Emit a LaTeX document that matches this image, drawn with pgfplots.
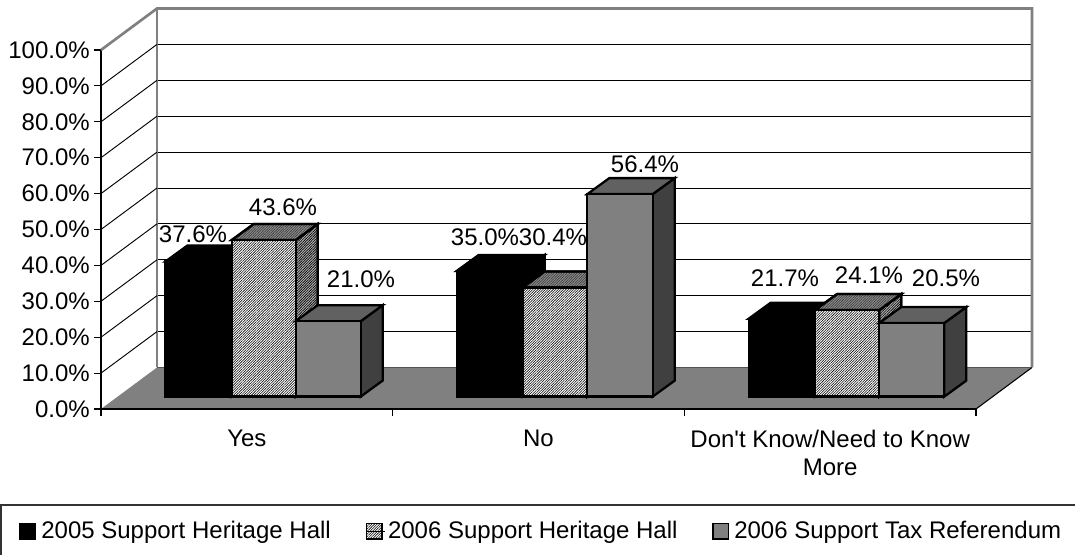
\documentclass[border=0pt]{standalone}
\usepackage{fontspec}
\setmainfont{Liberation Sans}[Ligatures=TeXOff]
\usepackage{pgfplots}
\pgfplotsset{compat=1.18}
\usetikzlibrary{patterns.meta}

% one drawing unit of the picture
\newlength{\U}\setlength{\U}{0.75pt}

% depth of a bar: horizontal in x units, vertical in percent
\def\depthx{22}
\def\depthy{4.457}

\tikzset{
  hatchfront/.style={preaction={fill=white},pattern={Lines[angle=45,distance=1.35pt,line width=0.42pt]},pattern color=black},
  hatchtop/.style={preaction={fill=gray!90},pattern={Lines[angle=45,distance=1.35pt,line width=0.4pt]},pattern color=black!80},
  hatchside/.style={preaction={fill=gray!60},pattern={Lines[angle=45,distance=1.35pt,line width=0.5pt]},pattern color=black},
}

% \threedbar{left}{right}{value}{front}{top}{side}{label x}{label y offset}
\newcommand{\threedbar}[8]{%
  \pgfmathsetmacro{\xa}{#1+\depthx}%
  \pgfmathsetmacro{\xb}{#2+\depthx}%
  \pgfmathsetmacro{\yt}{#3+\depthy}%
  \addplot[forget plot,draw=black,line width=1.7pt,#6,yshift=12.4*\U]
    coordinates {(#2,0) (\xb,\depthy) (\xb,\yt) (#2,#3)} --cycle;
  \addplot[forget plot,draw=black,line width=1.7pt,#5,yshift=12.4*\U]
    coordinates {(#1,#3) (\xa,\yt) (\xb,\yt) (#2,#3)} --cycle;
  \addplot[forget plot,draw=black,line width=1.7pt,#4,yshift=12.4*\U]
    coordinates {(#1,0) (#2,0) (#2,#3) (#1,#3)} --cycle;
  \node[font=\barfont,inner sep=0pt,anchor=center,yshift=12.4*\U+#8*\U] at (axis cs:#7,#3) {#3\%};
}
\newcommand{\barfont}{\fontsize{18}{21}\selectfont}

\begin{document}
\begin{tikzpicture}[x=\U,y=\U]
\path[use as bounding box] (-101,-146) rectangle (974,409);
\begin{axis}[
  at={(0,0)},anchor=origin,
  scale only axis,
  width=875*\U,height=359*\U,
  xmin=0,xmax=875,ymin=0,ymax=100,
  clip=false,
  axis x line=bottom,axis y line=left,
  axis line style={-,black,line width=0.8pt},
  tick style={black,line width=0.8pt},
  tick align=outside,
  major tick length=7*\U,
  xtick={0,291.67,583.33,875},
  xticklabels={},
  extra x ticks={145.83,437.5,729.17},
  extra x tick labels={Yes,No,{Don't Know/Need to Know\\More}},
  extra x tick style={major tick length=0pt,
    xticklabel style={align=center,font=\barfont,yshift=-16*\U}},
  ytick={0,10,...,100},
  ymajorgrids,
  grid style={black,line width=0.7pt,xshift=56*\U,yshift=41.5*\U},
  /pgf/number format/assume math mode=true,
  yticklabel={\pgfmathprintnumber[fixed,fixed zerofill,precision=1]{\tick}\%},
  yticklabel style={font=\barfont,xshift=0.5*\U},
  legend style={at={(-0.0937,-0.34)},anchor=west,draw=none,fill=none,
    font=\barfont,legend columns=3,inner sep=0pt,
    /tikz/every even column/.append style={column sep=32*\U}},
  legend cell align=left,
  legend image code/.code={
    \draw[#1,line width=1.1pt] (0.5pt,-5.9pt) rectangle (12pt,5.6pt);
    \path[draw=none,fill=none] (0,0) -- (14.5pt,0);},
]
\addlegendimage{draw=black,fill=black}
\addlegendimage{draw=black,hatchfront}
\addlegendimage{draw=black,fill=gray}
\addlegendentry{2005 Support Heritage Hall}
\addlegendentry{2006 Support Heritage Hall}
\addlegendentry{2006 Support Tax Referendum}

% floor and walls
\addplot[forget plot,fill=gray,draw=none] coordinates {(0,0) (875,0) (931,11.56) (56,11.56)} --cycle;
\draw[black,line width=0.8pt] (axis cs:875,0) -- ++(56*\U,41.5*\U);
\draw[black,line width=0.8pt] (axis cs:0,0) -- (axis cs:875,0);
\draw[gray,line width=2pt] (axis cs:0,100) -- ++(56*\U,41.5*\U) -- ++(875*\U,0) -- ++(0,-359*\U);
\draw[gray,line width=2pt] (axis cs:0,100) ++(56*\U,41.5*\U) -- ++(0,-359*\U);
\pgfplotsinvokeforeach{10,20,...,90}{
  \draw[black,line width=0.7pt] (axis cs:0,#1) -- ++(56*\U,41.5*\U);
}

% Yes
\threedbar{64.3}{130.7}{37.6}{fill=black}{fill=black}{fill=black}{92}{27.5}
\threedbar{130.7}{194.7}{43.6}{hatchfront}{hatchtop}{hatchside}{182}{33}
\threedbar{194.7}{259.7}{21.0}{fill=gray}{fill=black!62}{fill=black!75}{260}{42}
% No
\threedbar{355.7}{421.7}{35.0}{fill=black}{fill=black}{fill=black}{384}{34}
\threedbar{421.7}{486.3}{30.4}{hatchfront}{hatchtop}{hatchside}{452}{50}
\threedbar{486.3}{551.7}{56.4}{fill=gray}{fill=black!62}{fill=black!75}{544}{30}
% Don't Know/Need to Know More
\threedbar{647.7}{714}{21.7}{fill=black}{fill=black}{fill=black}{684}{40}
\threedbar{714}{778.3}{24.1}{hatchfront}{hatchtop}{hatchside}{768}{35}
\threedbar{778.3}{843.3}{20.5}{fill=gray}{fill=black!62}{fill=black!75}{845}{45}
\end{axis}
% frame round the legend
\draw[black!80,line width=0.8pt] (-100,-146.5) -- (-100,-96) -- (974,-96);
\end{tikzpicture}
\end{document}
